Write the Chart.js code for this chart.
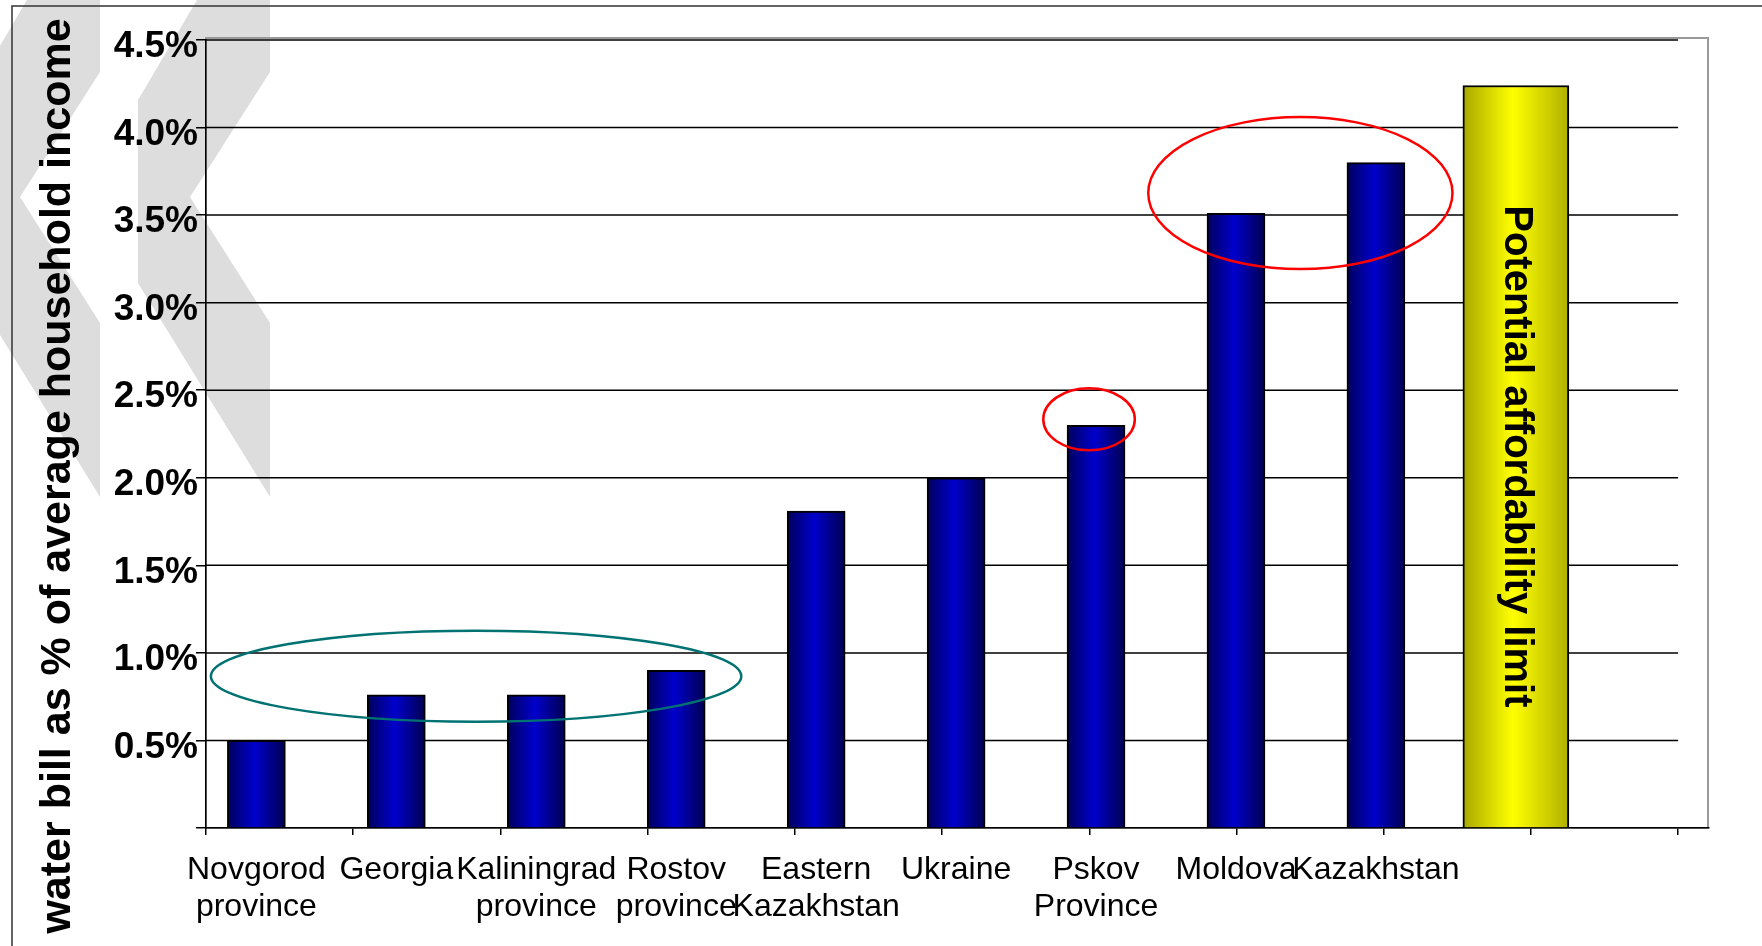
<!DOCTYPE html>
<html>
<head>
<meta charset="utf-8">
<title>Water bill affordability</title>
<script src="https://cdn.jsdelivr.net/npm/chart.js@4/dist/chart.umd.min.js"></script>
<style>
  html, body { margin: 0; padding: 0; background: #fff; }
  #wrap { position: relative; width: 1762px; height: 946px; }
</style>
</head>
<body>
<div id="wrap"><canvas id="chart" width="1762" height="946"></canvas></div>
<script>
// ------ Data ------
const regions = [
  ['Novgorod', 'province'], 'Georgia', ['Kaliningrad', 'province'], ['Rostov', 'province'],
  ['Eastern', 'Kazakhstan'], 'Ukraine', ['Pskov', 'Province'], 'Moldova', 'Kazakhstan'
];
const billShare = [0.5, 0.76, 0.76, 0.9, 1.81, 2.0, 2.3, 3.51, 3.8];
const limitText = 'Potential affordability limit';
const limitShare = 4.24;
const yTicks = [0, 0.5, 1, 1.5, 2, 2.5, 3, 3.5, 4, 4.5];
const yTitle = 'water bill as % of average household income';

// ellipses drawn around groups of bars (bar index units / percent units)
const circled = [
  { x: 1.57, y: 0.867, rx: 1.895, ry: 0.26, color: '#007272' },
  { x: 5.95, y: 2.334, rx: 0.327, ry: 0.177, color: '#ff0000' },
  { x: 7.46, y: 3.626, rx: 1.087, ry: 0.434, color: '#ff0000' }
];

const FONT = '"Liberation Sans", Arial, Helvetica, sans-serif';
const slotCount = regions.length + 1;   // regions + the limit bar
const BLUE_W = 58, LIMIT_W = 106;

Chart.defaults.font.family = FONT;
Chart.defaults.color = '#000';

// horizontal shading, dark at both edges and bright in the middle
function barShade(edge, mid, edge2, width) {
  return c => {
    const sx = c.chart.scales.x;
    if (!sx || !c.raw) return mid;
    const px = sx.getPixelForValue(c.raw.x);
    if (!Number.isFinite(px)) return mid;
    const g = c.chart.ctx.createLinearGradient(px - width / 2, 0, px + width / 2, 0);
    g.addColorStop(0, edge);
    g.addColorStop(0.47, mid);
    g.addColorStop(1, edge2);
    return g;
  };
}

// background: grey chevrons, slide frame, plot box, axis title
const backdrop = {
  id: 'backdrop',
  beforeDraw(chart) {
    const { ctx, chartArea: a } = chart;
    ctx.save();
    ctx.fillStyle = '#fff';
    ctx.fillRect(0, 0, chart.width, chart.height);

    const chevron = [[27, 0], [100, 0], [100, 72], [20, 197], [100, 323], [100, 497], [-32, 283], [-32, 100]];
    ctx.fillStyle = '#dddddd';
    [0, 170].forEach(dx => {
      ctx.beginPath();
      chevron.forEach(([x, y], i) => i ? ctx.lineTo(x + dx, y) : ctx.moveTo(x + dx, y));
      ctx.closePath();
      ctx.fill();
    });

    ctx.strokeStyle = '#333';
    ctx.lineWidth = 1.5;
    ctx.beginPath();
    ctx.moveTo(12, chart.height);
    ctx.lineTo(12, 6);
    ctx.lineTo(chart.width, 6);
    ctx.stroke();

    ctx.strokeStyle = '#999';
    ctx.lineWidth = 2;
    ctx.strokeRect(a.left, a.top - 2, a.right - 1 - a.left, a.bottom - a.top + 2);

    ctx.translate(70, chart.height / 2 + 3);
    ctx.rotate(-Math.PI / 2);
    ctx.font = 'bold 43px ' + FONT;
    ctx.textAlign = 'center';
    ctx.textBaseline = 'alphabetic';
    ctx.fillStyle = '#000';
    ctx.fillText(yTitle, 0, 0);
    ctx.restore();
  }
};

// value gridlines stop at the last category boundary
const gridLines = {
  id: 'gridLines',
  beforeDatasetsDraw(chart) {
    const { ctx, chartArea: a, scales: { y, xf } } = chart;
    const x1 = xf.getPixelForValue(slotCount);
    ctx.save();
    ctx.strokeStyle = '#000';
    ctx.lineWidth = 1.5;
    yTicks.filter(v => v > 0).forEach(v => {
      const py = y.getPixelForValue(v);
      ctx.beginPath();
      ctx.moveTo(a.left, py);
      ctx.lineTo(x1, py);
      ctx.stroke();
    });
    ctx.restore();
  }
};

const notes = {
  id: 'notes',
  afterDatasetsDraw(chart) {
    const { ctx, scales: { x, y } } = chart;
    ctx.save();
    circled.forEach(c => {
      const cx = x.getPixelForValue(c.x), cy = y.getPixelForValue(c.y);
      const rx = x.getPixelForValue(c.x + c.rx) - cx;
      const ry = cy - y.getPixelForValue(c.y + c.ry);
      ctx.beginPath();
      ctx.ellipse(cx, cy, rx, ry, 0, 0, Math.PI * 2);
      ctx.strokeStyle = c.color;
      ctx.lineWidth = 2.5;
      ctx.stroke();
    });

    const bar = chart.getDatasetMeta(1).data[0];
    ctx.translate(bar.x, (bar.y + bar.base) / 2);
    ctx.rotate(Math.PI / 2);
    ctx.font = 'bold 40px ' + FONT;
    ctx.textAlign = 'center';
    ctx.textBaseline = 'middle';
    ctx.fillStyle = '#000';
    ctx.fillText(limitText, 0, 0);
    ctx.restore();
  }
};

new Chart(document.getElementById('chart'), {
  type: 'bar',
  data: {
    datasets: [{
      data: billShare.map((v, i) => ({ x: i, y: v })),
      xAxisID: 'x',
      grouped: false,
      barThickness: BLUE_W,
      backgroundColor: barShade('#00005c', '#0000cc', '#000050', BLUE_W),
      borderColor: '#000',
      borderWidth: 2
    }, {
      data: [{ x: regions.length, y: limitShare }],
      xAxisID: 'x',
      grouped: false,
      barThickness: LIMIT_W,
      backgroundColor: barShade('#a8a800', '#ffff00', '#b0b000', LIMIT_W),
      borderColor: '#000',
      borderWidth: 2
    }]
  },
  options: {
    responsive: false,
    animation: false,
    layout: { padding: { top: 40, right: 53, bottom: 0, left: 0 } },
    plugins: { legend: { display: false }, tooltip: { enabled: false } },
    scales: {
      // bar positions and region names
      x: {
        type: 'linear',
        position: 'bottom',
        weight: 1,
        offset: false,
        min: -0.36,
        max: 10.38,
        afterBuildTicks: s => { s.ticks = regions.map((_, i) => ({ value: i })); },
        afterFit: s => { s.height = 112; },
        grid: { display: false, drawTicks: false, offset: false },
        border: { display: false },
        ticks: {
          autoSkip: false,
          maxRotation: 0,
          padding: 18,
          font: { size: 32, lineHeight: 1.15 },
          callback: v => regions[v] ?? ''
        }
      },
      // category boundaries with tick marks
      xf: {
        type: 'linear',
        position: 'bottom',
        weight: 0,
        offset: false,
        min: 0,
        max: 10.21,
        afterBuildTicks: s => { s.ticks = Array.from({ length: slotCount + 1 }, (_, i) => ({ value: i })); },
        afterFit: s => { s.height = 6; },
        grid: { drawOnChartArea: false, offset: false, tickLength: 7, color: '#000', lineWidth: 1.5 },
        border: { color: '#000', width: 1.5 },
        ticks: { display: false }
      },
      y: {
        min: 0,
        max: 4.5,
        afterBuildTicks: s => { s.ticks = yTicks.map(v => ({ value: v })); },
        afterFit: s => { s.width = 206; },
        grid: { drawOnChartArea: false, tickLength: 10, color: '#000', lineWidth: 1.5 },
        border: { color: '#000', width: 1.5 },
        ticks: {
          padding: -2,
          labelOffset: 7,
          font: { size: 37, weight: 'bold' },
          callback: v => v === 0 ? '' : v.toFixed(1) + '%'
        }
      }
    }
  },
  plugins: [backdrop, gridLines, notes]
});
</script>
</body>
</html>
